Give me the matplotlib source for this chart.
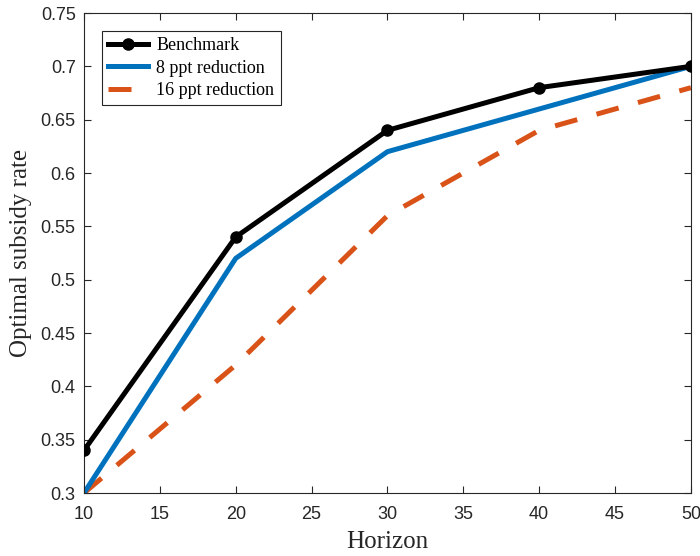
import numpy as np
import matplotlib.pyplot as plt

# horizon (years) and optimal subsidy rate for each scenario
horizon = [10, 20, 30, 40, 50]
benchmark = [0.34, 0.54, 0.64, 0.68, 0.70]
reduction_8 = [0.30, 0.52, 0.62, 0.66, 0.70]
reduction_16 = [0.30, 0.42, 0.56, 0.64, 0.68]

labels = ['Benchmark', '8 ppt reduction', '16 ppt reduction']
xticks = np.arange(10, 51, 5)
yticks = np.arange(0.30, 0.751, 0.05)
ytick_labels = ['0.3', '0.35', '0.4', '0.45', '0.5', '0.55', '0.6', '0.65', '0.7', '0.75']

fig = plt.figure(figsize=(7, 5.56), dpi=100)
ax = fig.add_axes([0.12, 0.1133, 0.867, 0.8633])

ax.plot(horizon, benchmark, color='black', lw=3.6, marker='o', ms=8, label=labels[0], zorder=3)
ax.plot(horizon, reduction_8, color='#0072BD', lw=3.6, label=labels[1], zorder=2)
ax.plot(horizon, reduction_16, color='#D95319', lw=3.6, dashes=(4.6, 4.0), label=labels[2], zorder=1)

ax.set_xlim(10, 50)
ax.set_ylim(0.3, 0.75)
ax.set_xticks(xticks)
ax.set_yticks(yticks)
ax.set_yticklabels(ytick_labels)
ax.tick_params(direction='in', top=True, right=True, length=5, width=0.8,
               colors='#262626', labelsize=13)
ax.tick_params(axis='x', pad=9)
ax.tick_params(axis='y', pad=6)
for lab in ax.get_xticklabels() + ax.get_yticklabels():
    lab.set_family('Liberation Sans')
for sp in ax.spines.values():
    sp.set_color('#262626')
    sp.set_linewidth(0.8)

ax.set_xlabel('Horizon', family='Liberation Serif', fontsize=18, color='#262626', labelpad=6)
ax.set_ylabel('Optimal subsidy rate', family='Liberation Serif', fontsize=18, color='#262626', labelpad=6)

leg = ax.legend(loc='upper left', bbox_to_anchor=(0.0297, 0.9625), borderaxespad=0,
                prop={'family': 'Liberation Serif', 'size': 13}, fancybox=False,
                framealpha=1, edgecolor='#262626', handlelength=2.2,
                handletextpad=0.45, labelspacing=0.3, borderpad=0.35)
leg.get_frame().set_linewidth(0.8)

fig.savefig('out.png', dpi=100)
